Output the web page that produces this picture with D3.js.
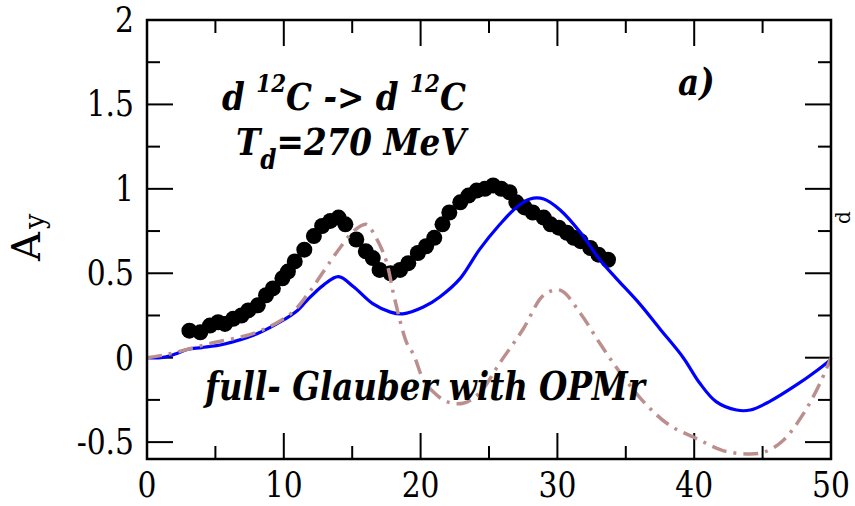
<!DOCTYPE html>
<html>
<head>
<meta charset="utf-8">
<script src="https://cdn.jsdelivr.net/npm/d3@7"></script>
<style>
  body { margin: 0; background: #fff; }
</style>
</head>
<body>
<svg id="chart" width="855" height="506"></svg>
<script>
// data
const dotTheta = [3.1, 3.9, 4.6, 5.2, 5.7, 6.3, 6.9, 7.4, 8.1, 8.7, 9.2, 9.9, 10.3, 10.8, 11.5, 12.2, 12.8, 13.4, 14.0, 14.5, 15.3, 16.0, 16.5, 17.0, 17.8, 18.5, 19.1, 19.8, 20.4, 21.0, 21.6, 22.1, 22.9, 23.5, 24.1, 24.7, 25.3, 25.9, 26.5, 27.0, 27.6, 28.2, 29.0, 29.5, 30.1, 30.7, 31.2, 31.7, 32.4, 33.0, 33.7];
const dotAy = [0.16, 0.15, 0.19, 0.21, 0.20, 0.23, 0.25, 0.28, 0.31, 0.37, 0.41, 0.47, 0.51, 0.57, 0.64, 0.72, 0.78, 0.81, 0.83, 0.79, 0.70, 0.63, 0.59, 0.52, 0.50, 0.52, 0.56, 0.62, 0.66, 0.71, 0.79, 0.86, 0.92, 0.96, 0.99, 1.00, 1.02, 1.00, 0.98, 0.92, 0.89, 0.86, 0.83, 0.79, 0.77, 0.74, 0.71, 0.69, 0.65, 0.61, 0.58];

const blueTheta = [0, 1, 2, 3, 4, 5.6, 8, 9.7, 11, 11.7, 12.9, 14.0, 15.1, 16.5, 17.8, 18.7, 20.2, 21.4, 22.9, 24.3, 25.8, 27.0, 28.0, 29.0, 30.2, 31.7, 33.1, 34.3, 36.0, 37.5, 39.2, 40.4, 41.6, 43.1, 44.1, 45.5, 47.5, 48.9, 50];
const blueAy = [0, 0, 0.02, 0.05, 0.06, 0.08, 0.14, 0.21, 0.28, 0.34, 0.43, 0.48, 0.42, 0.32, 0.27, 0.26, 0.30, 0.36, 0.47, 0.64, 0.79, 0.89, 0.94, 0.94, 0.875, 0.74, 0.58, 0.47, 0.32, 0.17, 0.0, -0.15, -0.26, -0.31, -0.31, -0.26, -0.16, -0.08, -0.01];

const dashTheta = [0, 1.5, 4.4, 8.0, 10.5, 11.7, 12.4, 13.4, 14.1, 15.1, 16.0, 16.3, 17.0, 17.5, 18.1, 19.0, 19.5, 20.2, 20.9, 21.9, 23.1, 24.3, 25.8, 27.5, 29.0, 30.2, 31.7, 33.1, 34.6, 36.4, 38.2, 40.2, 42.1, 43.8, 45.1, 46.5, 48.0, 49.2, 50];
const dashAy = [0, 0.02, 0.08, 0.15, 0.26, 0.37, 0.45, 0.57, 0.65, 0.75, 0.79, 0.77, 0.67, 0.57, 0.35, 0.085, 0.016, -0.13, -0.20, -0.26, -0.27, -0.21, -0.03, 0.17, 0.37, 0.40, 0.26, 0.085, -0.09, -0.27, -0.40, -0.48, -0.55, -0.57, -0.56, -0.49, -0.33, -0.15, 0.0];

const xTicks = [0, 10, 20, 30, 40, 50];
const yTicks = [-0.5, 0, 0.5, 1, 1.5, 2];

// DejaVu Serif is the only serif face that renders here; it is wider than Times,
// so the annotation texts get a horizontal squeeze
const svg = d3.select("#chart").style("font-family", "DejaVu Serif");
const L = 147, R = 831, T = 20, B = 459;

const x = d3.scaleLinear().domain([0, 50]).range([L, R]);
const y = d3.scaleLinear().domain([-0.6, 2]).range([B, T]);

// ticks, inward on all four sides
const ax = svg.append("g");
const major = 26, minor = 13;
const xMinor = d3.range(5, 50, 10);
const yMinor = [-0.25, 0.25, 0.75, 1.25, 1.75];

xTicks.forEach(v => {
  ax.append("line").attr("x1", x(v)).attr("x2", x(v)).attr("y1", B).attr("y2", B - major);
  ax.append("line").attr("x1", x(v)).attr("x2", x(v)).attr("y1", T).attr("y2", T + major);
});
xMinor.forEach(v => {
  ax.append("line").attr("x1", x(v)).attr("x2", x(v)).attr("y1", B).attr("y2", B - minor);
  ax.append("line").attr("x1", x(v)).attr("x2", x(v)).attr("y1", T).attr("y2", T + minor);
});
yTicks.forEach(v => {
  ax.append("line").attr("x1", L).attr("x2", L + major).attr("y1", y(v)).attr("y2", y(v));
  ax.append("line").attr("x1", R).attr("x2", R - major).attr("y1", y(v)).attr("y2", y(v));
});
yMinor.forEach(v => {
  ax.append("line").attr("x1", L).attr("x2", L + minor).attr("y1", y(v)).attr("y2", y(v));
  ax.append("line").attr("x1", R).attr("x2", R - minor).attr("y1", y(v)).attr("y2", y(v));
});
ax.selectAll("line").attr("stroke", "#000").attr("stroke-width", 2);

// tick labels
svg.append("g").selectAll("text").data(xTicks).join("text")
  .attr("transform", d => `translate(${x(d)},497) scale(0.85,1)`)
  .attr("text-anchor", "middle").attr("font-size", 35)
  .text(d => d);
svg.append("g").selectAll("text").data(yTicks).join("text")
  .attr("transform", d => `translate(134,${y(d) + 12}) scale(0.85,1)`)
  .attr("text-anchor", "end").attr("font-size", 35)
  .text(d => d);

// y axis title
const yl = svg.append("text").attr("transform", "translate(40,261) rotate(-90)")
  .attr("font-size", 40);
yl.append("tspan").text("A");
yl.append("tspan").attr("font-size", 27).attr("dx", 3).attr("dy", 4).text("y");

// data dots
svg.append("g").selectAll("circle").data(dotTheta).join("circle")
  .attr("cx", d => x(d)).attr("cy", (d, i) => y(dotAy[i])).attr("r", 8)
  .attr("fill", "#000");

const line = d3.line().curve(d3.curveCatmullRom.alpha(0.5));

svg.append("path")
  .attr("d", line(blueTheta.map((t, i) => [x(t), y(blueAy[i])])))
  .attr("fill", "none").attr("stroke", "#0000ff").attr("stroke-width", 3.2);

svg.append("path")
  .attr("d", line(dashTheta.map((t, i) => [x(t), y(dashAy[i])])))
  .attr("fill", "none").attr("stroke", "#bc8f8f").attr("stroke-width", 3.5)
  .attr("stroke-dasharray", "15,7,3,7");

// frame
svg.append("rect").attr("x", L).attr("y", T).attr("width", R - L).attr("height", B - T)
  .attr("fill", "none").attr("stroke", "#000").attr("stroke-width", 2.5);

// annotations
const note = (tx, ty, sx, size) => svg.append("text")
  .attr("transform", `translate(${tx},${ty}) scale(${sx},1)`)
  .attr("font-size", size).attr("font-weight", "bold").attr("font-style", "italic");

const t1 = note(222, 110, 0.86, 38);
t1.append("tspan").text("d ");
t1.append("tspan").attr("font-size", 25).attr("dy", -18).text("12");
t1.append("tspan").attr("dy", 18).text("C -> d ");
t1.append("tspan").attr("font-size", 25).attr("dy", -18).text("12");
t1.append("tspan").attr("dy", 18).text("C");

const t2 = note(236, 155, 0.86, 38);
t2.append("tspan").text("T");
t2.append("tspan").attr("font-size", 27).attr("dy", 14).text("d");
t2.append("tspan").attr("dy", -14).text("=270 MeV");

note(678, 95, 0.86, 38).text("a)");

note(205, 400, 0.834, 39).text("full- Glauber with OPMr");

// cut-off label from the neighbouring panel
svg.append("text").attr("transform", "translate(850,224) rotate(-90)")
  .attr("font-size", 20).text("d");
</script>
</body>
</html>
